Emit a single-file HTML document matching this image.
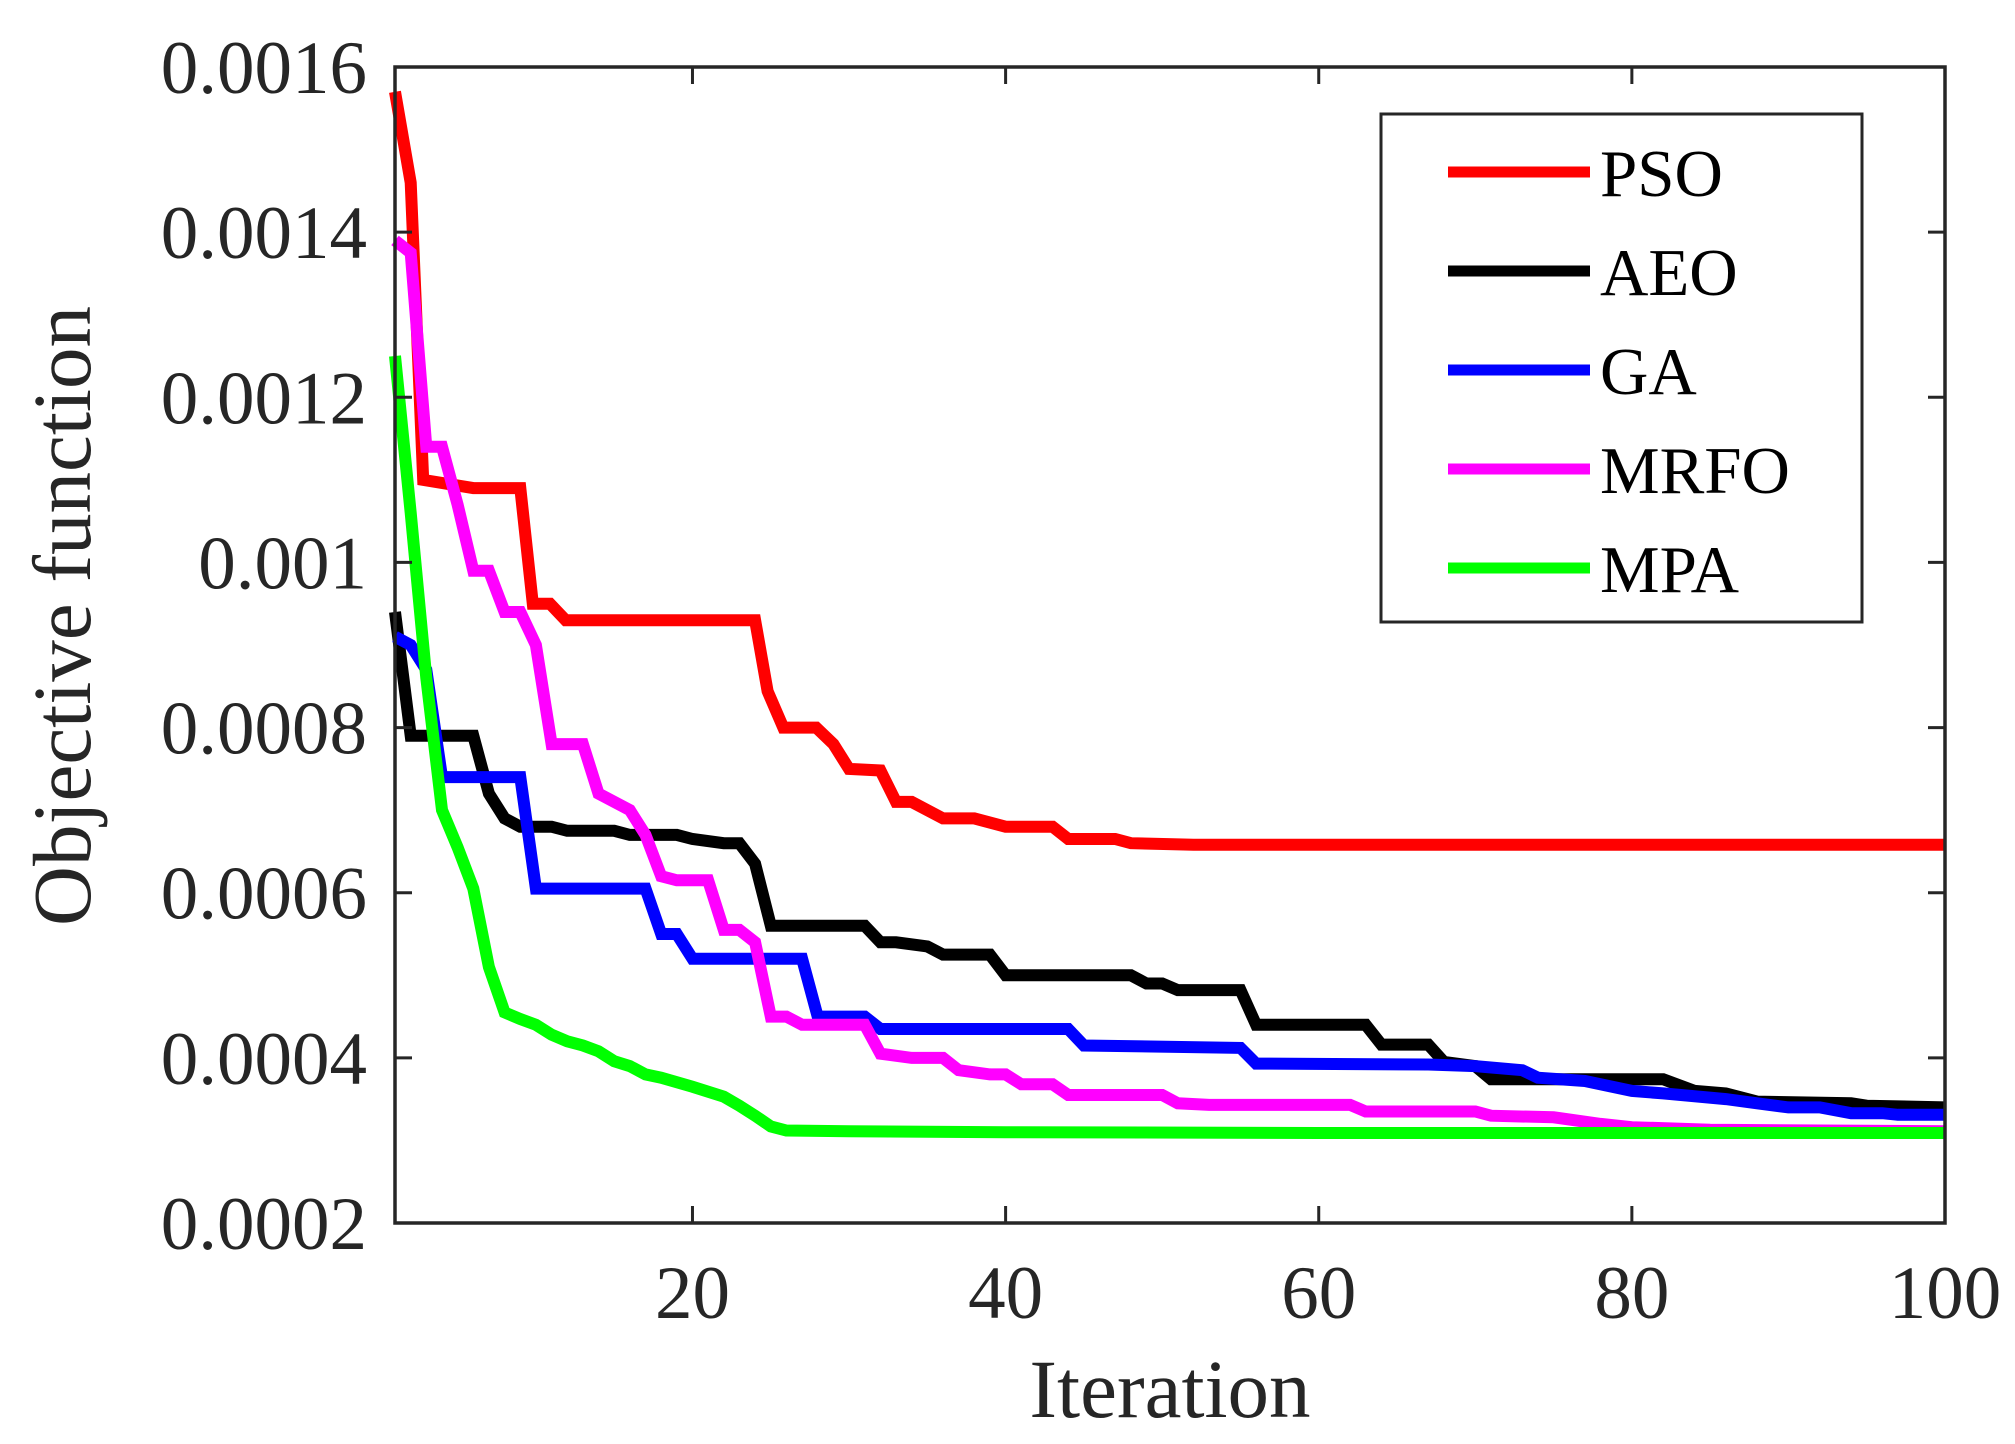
<!DOCTYPE html>
<html><head><meta charset="utf-8"><style>
html,body{margin:0;padding:0;background:#fff;}
svg{display:block;}
text{font-family:"Liberation Serif",serif;}
</style></head><body>
<svg id="chart" width="2015" height="1444" viewBox="0 0 2015 1444" xmlns="http://www.w3.org/2000/svg">
<rect x="0" y="0" width="2015" height="1444" fill="#fff"/>
<g id="series"></g>
<g id="axes"></g>
<g id="legend"></g>
<text x="1170" y="1417" font-size="83" fill="#262626" text-anchor="middle">Iteration</text>
<text transform="translate(90,616) rotate(-90)" font-size="83" fill="#262626" text-anchor="middle">Objective function</text>
</svg>
<script>
const seriesNames = ["PSO","AEO","GA","MRFO","MPA"];
const seriesColors = ["#ff0000","#000000","#0000ff","#ff00ff","#00ff00"];
const xTicks = [20,40,60,80,100];
const yTicks = [0.0002,0.0004,0.0006,0.0008,0.0010,0.0012,0.0014,0.0016];
const yTickLabels = ["0.0002","0.0004","0.0006","0.0008","0.001","0.0012","0.0014","0.0016"];
const psoIter = [1,2,2.8,6,9,9.8,10.9,11.9,24,24.8,25.8,27.9,29,30,32,33,34,36,38,40,43,44,47,48,52,100];
const psoVal = [0.00157,0.00146,0.0011,0.00109,0.00109,0.00095,0.00095,0.00093,0.00093,0.000844,0.0008,0.0008,0.00078,0.00075,0.000748,0.00071,0.00071,0.00069,0.00069,0.00068,0.00068,0.000665,0.000665,0.00066,0.000658,0.000658];
const aeoIter = [1,2,6,7,8,9,11,12,15,16,19,20,22,23,24,25,31,32,33,35,36,39,40,48,49,50,51,55,56,63,64,67,68,70,71,82,84,86,88,94,95,100];
const aeoVal = [0.00094,0.00079,0.00079,0.00072,0.00069,0.00068,0.00068,0.000675,0.000675,0.00067,0.00067,0.000665,0.00066,0.00066,0.000635,0.00056,0.00056,0.00054,0.00054,0.000535,0.000525,0.000525,0.0005,0.0005,0.00049,0.00049,0.000482,0.000482,0.00044,0.00044,0.000416,0.000416,0.000395,0.00039,0.000374,0.000374,0.00036,0.000357,0.000347,0.000345,0.000342,0.00034];
const gaIter = [1,2,3,4,9,10,17,18,19,20,27,28,31,32,44,45,55,56,67,70,73,74,77,80,82,86,88,90,92,94,96,97,100];
const gaVal = [0.00091,0.0009,0.00087,0.00074,0.00074,0.000605,0.000605,0.00055,0.00055,0.00052,0.00052,0.00045,0.00045,0.000435,0.000435,0.000415,0.000412,0.000393,0.000392,0.00039,0.000385,0.000376,0.000372,0.00036,0.000357,0.00035,0.000345,0.00034,0.00034,0.000333,0.000333,0.000331,0.000331];
const mrfoIter = [1,2,3,4,5,6,7,8,9,10,11,13,14,16,17,18,19,21,22,23,24,25,26,27,30,31,32,34,36,37,39,40,41,43,44,50,51,53,62,63,70,71,75,78,80,85,92,100];
const mrfoVal = [0.00139,0.001375,0.00114,0.00114,0.00107,0.00099,0.00099,0.00094,0.00094,0.0009,0.00078,0.00078,0.00072,0.0007,0.00067,0.00062,0.000615,0.000615,0.000555,0.000555,0.00054,0.00045,0.00045,0.00044,0.00044,0.00044,0.000405,0.0004,0.0004,0.000385,0.00038,0.00038,0.000368,0.000368,0.000355,0.000355,0.000345,0.000343,0.000343,0.000335,0.000335,0.00033,0.000328,0.00032,0.000316,0.000313,0.000312,0.000311];
const mpaIter = [1,2,3,4,5,6,7,8,9,10,11,12,13,14,15,16,17,18,20,22,23,24,25,26,30,40,60,100];
const mpaVal = [0.00125,0.00106,0.00086,0.0007,0.000655,0.000605,0.00051,0.000455,0.000447,0.00044,0.000428,0.00042,0.000415,0.000408,0.000396,0.00039,0.00038,0.000376,0.000365,0.000353,0.000342,0.00033,0.000317,0.000312,0.000311,0.00031,0.000309,0.000309];

const L=395,R=1945,T=67,B=1223;
const xMin=1,xMax=100,yMin=0.0002,yMax=0.0016;
function xs(v){return L+(v-xMin)/(xMax-xMin)*(R-L);}
function ys(v){return B-(v-yMin)/(yMax-yMin)*(B-T);}
const NS="http://www.w3.org/2000/svg";
function mk(tag,attrs,parent){const e=document.createElementNS(NS,tag);for(const k in attrs)e.setAttribute(k,attrs[k]);parent.appendChild(e);return e;}

const sg=document.getElementById('series');
const allIter=[psoIter,aeoIter,gaIter,mrfoIter,mpaIter];
const allVal=[psoVal,aeoVal,gaVal,mrfoVal,mpaVal];
[0,1,2,3,4].forEach(i=>{
  const pts=allIter[i].map((it,j)=>xs(it).toFixed(1)+","+ys(allVal[i][j]).toFixed(1)).join(" ");
  const p=mk('polyline',{points:pts,fill:"none",stroke:seriesColors[i],"stroke-width":12,"stroke-linejoin":"miter"},sg);
  
  
});

const ag=document.getElementById('axes');
const box=mk('rect',{x:L,y:T,width:R-L,height:B-T,fill:"none",stroke:"#262626","stroke-width":3.5},ag);


xTicks.forEach(v=>{
  const x=xs(v);
  const t1=mk('line',{x1:x,y1:B,x2:x,y2:B-17,stroke:"#262626","stroke-width":3},ag);
  
  
  const t2=mk('line',{x1:x,y1:T,x2:x,y2:T+17,stroke:"#262626","stroke-width":3},ag);
  
  
  const lb=mk('text',{x:x,y:1318,"font-size":75,fill:"#262626","text-anchor":"middle"},ag);
  lb.textContent=String(v);
  
  
});
yTicks.forEach((v,i)=>{
  const y=ys(v);
  const t1=mk('line',{x1:L,y1:y,x2:L+17,y2:y,stroke:"#262626","stroke-width":3},ag);
  
  
  const t2=mk('line',{x1:R,y1:y,x2:R-17,y2:y,stroke:"#262626","stroke-width":3},ag);
  
  
  const lb=mk('text',{x:367,y:y+26,"font-size":75,fill:"#262626","text-anchor":"end"},ag);
  lb.textContent=yTickLabels[i];
  
  
});

const lg=document.getElementById('legend');
const lbox=mk('rect',{x:1381,y:114,width:481,height:508,fill:"#fff",stroke:"#262626","stroke-width":3},lg);


seriesNames.forEach((n,i)=>{
  const y=172+i*99;
  const ln=mk('line',{x1:1448,y1:y,x2:1590,y2:y,stroke:seriesColors[i],"stroke-width":11},lg);
  
  
  const tx=mk('text',{x:1600,y:y+24,"font-size":67,fill:"#000"},lg);
  tx.textContent=n;
  
  
});
</script>
</body></html>
